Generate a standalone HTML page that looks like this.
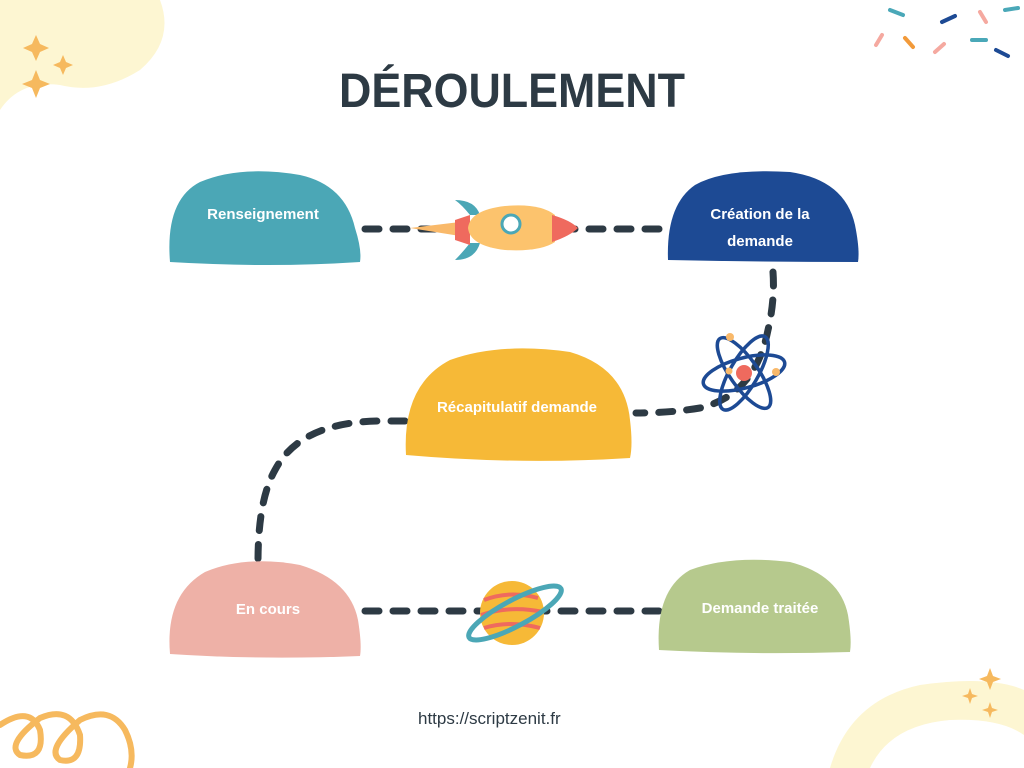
<!DOCTYPE html>
<html><head><meta charset="utf-8"><style>
html,body{margin:0;padding:0;background:#fff;}
svg{display:block;font-family:"Liberation Sans",sans-serif;}
</style></head><body>
<svg width="1024" height="768" viewBox="0 0 1024 768" xmlns="http://www.w3.org/2000/svg">
<rect width="1024" height="768" fill="#fff"/>
<!-- corner blobs -->
<path d="M0,0 L160,0 Q175,40 140,70 Q100,95 60,85 Q20,80 0,110 Z" fill="#fdf6d2"/>
<path d="M830,768 Q850,700 920,685 Q990,675 1024,690 L1024,768 Z" fill="#fdf6d2"/>
<path d="M870,768 Q890,725 950,720 Q1000,718 1024,735 L1024,768 Z" fill="#fff"/>
<g fill="#f6b95e">
<path d="M36,35 l4,9 9,4 -9,4 -4,9 -4,-9 -9,-4 9,-4z"/>
<path d="M63,55 l3,7 7,3 -7,3 -3,7 -3,-7 -7,-3 7,-3z"/>
<path d="M36,70 l4,10 10,4 -10,4 -4,10 -4,-10 -10,-4 10,-4z"/>
<path d="M990,668 l3,8 8,3 -8,3 -3,8 -3,-8 -8,-3 8,-3z"/>
<path d="M970,688 l2,6 6,2 -6,2 -2,6 -2,-6 -6,-2 6,-2z"/>
<path d="M990,702 l2,6 6,2 -6,2 -2,6 -2,-6 -6,-2 6,-2z"/>
</g>
<!-- bottom-left loops -->
<path d="M0,725 Q30,705 40,730 Q45,760 20,755 Q5,745 40,718 Q70,705 80,735 Q82,765 60,760 Q45,750 80,720 Q110,705 125,730 Q135,750 130,768" fill="none" stroke="#f6b95e" stroke-width="6" stroke-linecap="round"/>
<!-- confetti -->
<g stroke-width="4" stroke-linecap="round" fill="none">
<line x1="890" y1="10" x2="903" y2="15" stroke="#4aa8b8"/>
<line x1="942" y1="22" x2="955" y2="16" stroke="#1d4a94"/>
<line x1="980" y1="12" x2="986" y2="22" stroke="#f5a9a0"/>
<line x1="1005" y1="10" x2="1018" y2="8" stroke="#4aa8b8"/>
<line x1="876" y1="45" x2="882" y2="35" stroke="#f5a9a0"/>
<line x1="905" y1="38" x2="913" y2="47" stroke="#f29a3a"/>
<line x1="935" y1="52" x2="944" y2="44" stroke="#f5a9a0"/>
<line x1="972" y1="40" x2="986" y2="40" stroke="#4aa8b8"/>
<line x1="996" y1="50" x2="1008" y2="56" stroke="#1d4a94"/>
</g>
<text x="512" y="107" text-anchor="middle" font-size="48" font-weight="bold" fill="#2d3a44" textLength="346" lengthAdjust="spacingAndGlyphs">DÉROULEMENT</text>
<!-- dashed connectors -->
<g fill="none" stroke="#2d3a44" stroke-width="7" stroke-linecap="round" stroke-dasharray="14 14">
<line x1="365" y1="229" x2="668" y2="229"/>
<path d="M773,272 Q775,300 768,330 Q755,395 700,408 Q670,413 636,413"/>
<path d="M405,421 L380,421 Q300,422 275,470 Q258,500 258,562"/>
<line x1="365" y1="611" x2="660" y2="611"/>
</g>
<!-- nodes -->
<path d="M170,262 Q165,200 200,182 Q240,165 300,175 Q345,185 355,228 Q362,250 360,262 Q270,268 170,262Z" fill="#4ba7b6"/>
<text x="263" y="219" text-anchor="middle" font-size="15" font-weight="bold" fill="#fff">Renseignement</text>
<path d="M668,260 Q666,205 695,185 Q725,168 790,172 Q845,180 855,225 Q860,250 858,262 Q760,262 668,260Z" fill="#1d4a94"/>
<text x="760" y="219" text-anchor="middle" font-size="15" font-weight="bold" fill="#fff">Création de la</text>
<text x="760" y="246" text-anchor="middle" font-size="15" font-weight="bold" fill="#fff">demande</text>
<path d="M406,455 Q402,385 450,360 Q500,342 570,352 Q625,368 630,420 Q633,445 630,458 Q520,465 406,455Z" fill="#f6b937"/>
<text x="517" y="412" text-anchor="middle" font-size="15" font-weight="bold" fill="#fff">Récapitulatif demande</text>
<path d="M170,654 Q165,595 205,572 Q245,555 300,565 Q350,580 358,620 Q362,645 360,656 Q260,660 170,654Z" fill="#eeb1a7"/>
<text x="268" y="614" text-anchor="middle" font-size="15" font-weight="bold" fill="#fff">En cours</text>
<path d="M659,650 Q655,590 690,570 Q730,555 790,562 Q840,575 848,615 Q852,640 850,652 Q750,655 659,650Z" fill="#b6c98d"/>
<text x="760" y="613" text-anchor="middle" font-size="15" font-weight="bold" fill="#fff">Demande traitée</text>
<!-- rocket -->
<g>
<path d="M410,228 L460,222 L460,236Z" fill="#f9b96a"/>
<path d="M455,200 Q475,200 480,215 L470,215 Q462,205 455,200Z" fill="#4ba7b6"/>
<path d="M455,260 Q475,260 480,243 L470,243 Q462,253 455,260Z" fill="#4ba7b6"/>
<path d="M455,220 L470,215 L470,245 L455,240Z" fill="#ef6a5e"/>
<path d="M468,228 Q470,210 505,206 Q540,203 555,215 L555,242 Q540,252 505,250 Q470,246 468,228Z" fill="#fcc36d"/>
<path d="M552,215 Q570,220 578,228 Q570,236 552,242Z" fill="#ef6a5e"/>
<circle cx="511" cy="224" r="9" fill="#fff" stroke="#4ba7b6" stroke-width="3"/>
</g>
<!-- atom -->
<g fill="none" stroke="#1d4a94" stroke-width="3.5">
<ellipse cx="744" cy="373" rx="42" ry="15" transform="rotate(-15 744 373)"/>
<ellipse cx="744" cy="373" rx="42" ry="14" transform="rotate(55 744 373)"/>
<ellipse cx="744" cy="373" rx="42" ry="14" transform="rotate(120 744 373)"/>
</g>
<circle cx="744" cy="373" r="8" fill="#ef6a5e"/>
<circle cx="730" cy="337" r="4" fill="#f9b96a"/><circle cx="776" cy="372" r="4" fill="#f9b96a"/><circle cx="729" cy="371" r="3.5" fill="#f9b96a"/>
<!-- planet -->
<circle cx="512" cy="613" r="32" fill="#f6b937"/>
<path d="M484,600 Q510,590 538,598 M481,615 Q510,605 543,612 M484,628 Q510,620 540,628" stroke="#ef6a5e" stroke-width="4" fill="none"/>
<ellipse cx="515" cy="613" rx="52" ry="13" transform="rotate(-28 515 613)" fill="none" stroke="#4ba7b6" stroke-width="5"/>
<circle cx="512" cy="613" r="30" fill="none"/>
<text x="418" y="724" font-size="17" fill="#2d3a44">https://scriptzenit.fr</text>
</svg>
</body></html>
